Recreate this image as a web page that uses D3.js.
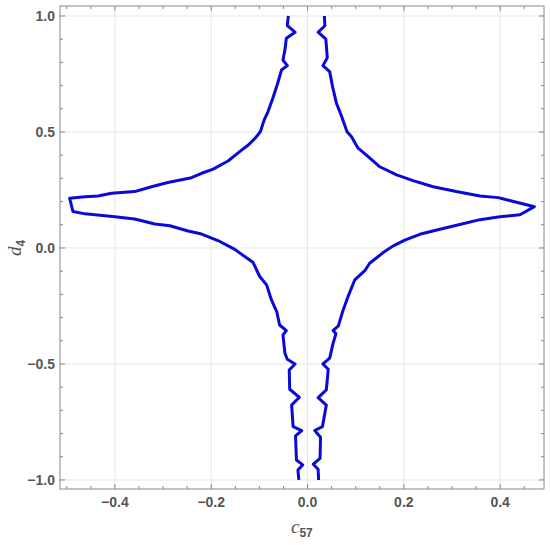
<!DOCTYPE html>
<html>
<head>
<meta charset="utf-8">
<script src="https://cdn.jsdelivr.net/npm/d3@7"></script>
<style>
  body { margin: 0; background: #fff; }
  svg { display: block; }
  .tick-label { font-family: "Liberation Sans", Arial, sans-serif; font-weight: bold; font-size: 14px; fill: #555; }
</style>
</head>
<body>
<svg width="550" height="545"></svg>
<script>
// contour branches (c57, d4)
var leftX = [-0.040,-0.042,-0.026,-0.044,-0.047,-0.051,-0.042,-0.054,-0.062,-0.071,-0.082,-0.090,-0.098,-0.109,-0.123,-0.141,-0.165,-0.196,-0.220,-0.241,-0.290,-0.324,-0.359,-0.407,-0.435,-0.462,-0.494,-0.487,-0.462,-0.400,-0.359,-0.317,-0.286,-0.248,-0.220,-0.186,-0.151,-0.113,-0.099,-0.085,-0.075,-0.064,-0.058,-0.044,-0.051,-0.047,-0.042,-0.026,-0.038,-0.037,-0.017,-0.033,-0.030,-0.012,-0.025,-0.023,-0.010,-0.020,-0.018];
var leftY = [1.000,0.958,0.930,0.904,0.853,0.810,0.786,0.767,0.710,0.652,0.588,0.552,0.501,0.473,0.444,0.415,0.375,0.340,0.322,0.303,0.282,0.264,0.243,0.236,0.224,0.221,0.214,0.157,0.147,0.135,0.125,0.103,0.096,0.073,0.060,0.032,-0.006,-0.063,-0.124,-0.159,-0.224,-0.274,-0.332,-0.356,-0.375,-0.454,-0.480,-0.500,-0.526,-0.609,-0.644,-0.677,-0.770,-0.787,-0.810,-0.914,-0.935,-0.957,-1.000];

var rightX = [0.035,0.036,0.022,0.038,0.041,0.032,0.046,0.052,0.060,0.071,0.082,0.091,0.105,0.126,0.150,0.185,0.219,0.261,0.309,0.358,0.396,0.434,0.471,0.441,0.399,0.358,0.316,0.275,0.233,0.202,0.178,0.157,0.129,0.119,0.098,0.084,0.074,0.064,0.053,0.059,0.053,0.046,0.032,0.043,0.039,0.022,0.039,0.031,0.015,0.027,0.026,0.012,0.022,0.023];
var rightY = [1.000,0.958,0.930,0.900,0.820,0.786,0.760,0.695,0.624,0.566,0.501,0.480,0.430,0.394,0.350,0.315,0.290,0.264,0.243,0.224,0.217,0.197,0.178,0.143,0.135,0.122,0.101,0.081,0.059,0.034,0.009,-0.020,-0.066,-0.098,-0.138,-0.210,-0.267,-0.336,-0.356,-0.370,-0.411,-0.475,-0.500,-0.523,-0.612,-0.645,-0.677,-0.770,-0.787,-0.816,-0.907,-0.932,-0.954,-1.000];

var xTicks = [-0.4, -0.2, 0.0, 0.2, 0.4];
var xMinor = d3.range(-0.5, 0.5001, 0.05);
var yTicks = [-1.0, -0.5, 0.0, 0.5, 1.0];
var yMinor = d3.range(-1.0, 1.0001, 0.1);

var svg = d3.select("svg");
var pL = 60, pR = 544, pT = 6, pB = 489;

var x = d3.scaleLinear().domain([-0.514, 0.491]).range([pL, pR]);
var y = d3.scaleLinear().domain([-1.039, 1.043]).range([pB, pT]);

// grid
svg.append("g").selectAll("line").data(xTicks).enter().append("line")
  .attr("x1", d => x(d)).attr("x2", d => x(d))
  .attr("y1", pT).attr("y2", pB)
  .attr("stroke", "#e6e6e6").attr("stroke-width", 1);
svg.append("g").selectAll("line").data(yTicks).enter().append("line")
  .attr("y1", d => y(d)).attr("y2", d => y(d))
  .attr("x1", pL).attr("x2", pR)
  .attr("stroke", "#e6e6e6").attr("stroke-width", 1);

// curves
var line = d3.line().x(d => x(d[0])).y(d => y(d[1]));
[[leftX, leftY], [rightX, rightY]].forEach(function(s) {
  var pts = s[0].map((v, i) => [v, s[1][i]]);
  svg.append("path").datum(pts)
    .attr("d", line)
    .attr("fill", "none")
    .attr("stroke", "#0a0ad8")
    .attr("stroke-width", 3)
    .attr("stroke-linejoin", "round");
});

// frame
svg.append("rect")
  .attr("x", pL).attr("y", pT)
  .attr("width", pR - pL).attr("height", pB - pT)
  .attr("fill", "none").attr("stroke", "#888").attr("stroke-width", 1);

// ticks (inward, all four sides)
var tk = svg.append("g").attr("stroke", "#888").attr("stroke-width", 1);
function isMajor(v, arr) { return arr.some(t => Math.abs(t - v) < 1e-6); }
xMinor.filter(v => x(v) > pL && x(v) < pR).forEach(function(v) {
  var len = isMajor(v, xTicks) ? 5 : 3;
  tk.append("line").attr("x1", x(v)).attr("x2", x(v)).attr("y1", pB).attr("y2", pB - len);
  tk.append("line").attr("x1", x(v)).attr("x2", x(v)).attr("y1", pT).attr("y2", pT + len);
});
yMinor.forEach(function(v) {
  var len = isMajor(v, yTicks) ? 5 : 3;
  tk.append("line").attr("y1", y(v)).attr("y2", y(v)).attr("x1", pL).attr("x2", pL + len);
  tk.append("line").attr("y1", y(v)).attr("y2", y(v)).attr("x1", pR).attr("x2", pR - len);
});

// tick labels
svg.append("g").selectAll("text").data(xTicks).enter().append("text")
  .attr("class", "tick-label")
  .attr("x", d => x(d)).attr("y", 507)
  .attr("text-anchor", "middle")
  .text(d => d3.format(".1f")(d).replace("-", "\u2212"));
svg.append("g").selectAll("text").data(yTicks).enter().append("text")
  .attr("class", "tick-label")
  .attr("x", 55).attr("y", d => y(d) + 5)
  .attr("text-anchor", "end")
  .text(d => d3.format(".1f")(d).replace("-", "\u2212"));

// axis labels
var xl = svg.append("text").attr("x", 291).attr("y", 533).attr("fill", "#555");
xl.append("tspan").attr("font-family", "'Liberation Serif', serif").attr("font-style", "italic").attr("font-size", 19).text("c");
xl.append("tspan").attr("font-family", "'Liberation Sans', Arial, sans-serif").attr("font-weight", "bold").attr("font-size", 12).attr("dy", 4).text("57");

var yl = svg.append("text").attr("transform", "translate(21,256) rotate(-90)").attr("fill", "#555");
yl.append("tspan").attr("font-family", "'Liberation Serif', serif").attr("font-style", "italic").attr("font-size", 19).text("d");
yl.append("tspan").attr("font-family", "'Liberation Sans', Arial, sans-serif").attr("font-weight", "bold").attr("font-size", 12).attr("dy", 4).text("4");
</script>
</body>
</html>
